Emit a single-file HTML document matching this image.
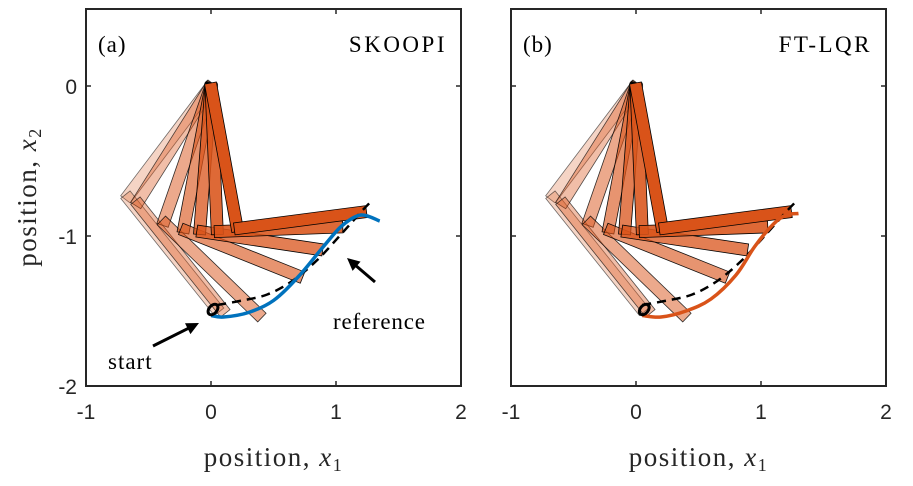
<!DOCTYPE html>
<html><head><meta charset="utf-8"><style>
html,body{margin:0;padding:0;background:#fff;}
svg text{font-family:"Liberation Serif",serif;}
.tick{font-family:"Liberation Sans",sans-serif;font-size:21px;fill:#262626;}
</style></head><body>
<svg id="c" width="913" height="481" viewBox="0 0 913 481" xmlns="http://www.w3.org/2000/svg"></svg>
<script>
const xTicks=[-1,0,1,2];
const yTicks=[0,-1,-2];
const elbowX=[-0.67,-0.59,-0.38,-0.22,-0.09,0.05,0.21];
const elbowY=[-0.74,-0.78,-0.91,-0.96,-0.97,-0.97,-0.95];
const tipX=[0.05,0.10,0.39,0.71,0.87,1.03,1.22];
const tipY=[-1.49,-1.50,-1.53,-1.27,-1.09,-0.94,-0.84];
const refX=[0.05,0.25,0.45,0.65,0.85,1.05,1.2,1.28];
const refY=[-1.46,-1.43,-1.39,-1.30,-1.16,-0.98,-0.84,-0.77];
const skX=[0.0,0.1,0.3,0.5,0.7,0.9,1.05,1.2,1.35];
const skY=[-1.53,-1.54,-1.51,-1.43,-1.27,-1.07,-0.93,-0.86,-0.90];
const ftX=[0.05,0.2,0.4,0.6,0.8,0.95,1.1,1.2,1.3];
const ftY=[-1.53,-1.54,-1.50,-1.42,-1.26,-1.07,-0.92,-0.86,-0.85];
const panels=[{x0:86,lab:"(a)",name:"SKOOPI",cx:skX,cy:skY,col:"#0072bd",yl:true},
              {x0:511,lab:"(b)",name:"FT-LQR",cx:ftX,cy:ftY,col:"#d95319",yl:false}];
const svg=document.getElementById('c');
const NS="http://www.w3.org/2000/svg";
function mk(t,a,p){const e=document.createElementNS(NS,t);for(const k in a)e.setAttribute(k,a[k]);(p||svg).appendChild(e);return e;}
function smooth(pts){
  let d='M'+pts[0][0]+','+pts[0][1];
  for(let i=0;i<pts.length-1;i++){
    const p0=pts[Math.max(0,i-1)],p1=pts[i],p2=pts[i+1],p3=pts[Math.min(pts.length-1,i+2)];
    const c1=[p1[0]+(p2[0]-p0[0])/6,p1[1]+(p2[1]-p0[1])/6];
    const c2=[p2[0]-(p3[0]-p1[0])/6,p2[1]-(p3[1]-p1[1])/6];
    d+=` C${c1[0]},${c1[1]} ${c2[0]},${c2[1]} ${p2[0]},${p2[1]}`;
  }
  return d;
}
const Y0=9,H=377,W=375;
const sy=v=>86-150*v;
panels.forEach((P,pi)=>{
  const sx=v=>P.x0+125+125*v;
  const g=mk('g',{});
  
  
  const n=elbowX.length;
  function bar(x1,y1,x2,y2,w,fill,op){
    const dx=x2-x1,dy=y2-y1,L=Math.hypot(dx,dy),nx=-dy/L*w/2,ny=dx/L*w/2;
    const ex=dx/L*3,ey=dy/L*3;
    const pts=[[x1-ex+nx,y1-ey+ny],[x2+ex+nx,y2+ey+ny],[x2+ex-nx,y2+ey-ny],[x1-ex-nx,y1-ey-ny]].map(p=>p.join(',')).join(' ');
    const e=mk('polygon',{points:pts,fill:fill,'fill-opacity':op,stroke:'#000','stroke-width':0.8,'stroke-opacity':Math.min(1,op+0.3)},g);
    
    
  }
  for(let i=0;i<n;i++){
    const op=0.25+0.75*i/(n-1);
    bar(sx(0),sy(0),sx(elbowX[i]),sy(elbowY[i]),12,'#d95319',op);
    bar(sx(elbowX[i]),sy(elbowY[i]),sx(tipX[i]),sy(tipY[i]),12,'#d95319',op);
  }
  const rp=mk('path',{d:smooth(refX.map((v,i)=>[sx(v),sy(refY[i])])),fill:'none',stroke:'#000','stroke-width':2.5,'stroke-dasharray':'9,6'},g);
  
  
  const tr=mk('path',{d:smooth(P.cx.map((v,i)=>[sx(v),sy(P.cy[i])])),fill:'none',stroke:P.col,'stroke-width':3.5,'stroke-linejoin':'round'},g);
  
  
  const sm=mk('g',{},g);
  
  
  mk('ellipse',{cx:sx(P.cx[0])+2,cy:sy(P.cy[0])-6,rx:4,ry:6,fill:'none',stroke:'#000','stroke-width':3,transform:`rotate(40 ${sx(P.cx[0])+2} ${sy(P.cy[0])-6})`},sm);
  const fr=mk('rect',{x:P.x0,y:Y0,width:W,height:H,fill:'none',stroke:'#262626','stroke-width':2},g);
  
  
  xTicks.forEach(v=>{
    const X=sx(v);
    mk('line',{x1:X,y1:Y0+H,x2:X,y2:Y0+H-5,stroke:'#262626','stroke-width':1.5},g);
    mk('line',{x1:X,y1:Y0,x2:X,y2:Y0+5,stroke:'#262626','stroke-width':1.5},g);
    const t=mk('text',{x:X,y:419,'text-anchor':'middle',class:'tick'},g);t.textContent=v;
    
    
  });
  yTicks.forEach(v=>{
    const Yp=sy(v);
    mk('line',{x1:P.x0,y1:Yp,x2:P.x0+5,y2:Yp,stroke:'#262626','stroke-width':1.5},g);
    mk('line',{x1:P.x0+W,y1:Yp,x2:P.x0+W-5,y2:Yp,stroke:'#262626','stroke-width':1.5},g);
    if(P.yl){const t=mk('text',{x:77,y:Yp+8,'text-anchor':'end',class:'tick'},g);t.textContent=v;
      
      }
  });
  const l=mk('text',{x:P.x0+12,y:52,'font-size':23,'letter-spacing':1},g);l.textContent=P.lab;
  
  
  const nm=mk('text',{x:P.x0+W-14,y:52,'font-size':23,'text-anchor':'end','letter-spacing':2.5},g);nm.textContent=P.name;
  
  
  const xt=mk('text',{x:P.x0+W/2,y:466,'font-size':27,'text-anchor':'middle',fill:'#262626','letter-spacing':1.5},g);
  xt.innerHTML='position, <tspan font-style="italic">x</tspan><tspan font-size="18" dy="5">1</tspan>';
  
  
});
const yt=mk('text',{x:0,y:0,'font-size':27,'text-anchor':'middle',fill:'#262626','letter-spacing':1.5,transform:'translate(36,197) rotate(-90)'});
yt.innerHTML='position, <tspan font-style="italic">x</tspan><tspan font-size="18" dy="5">2</tspan>';


function arrow(x1,y1,x2,y2,name){
  const g=mk('g',{});
  
  
  const a=Math.atan2(y2-y1,x2-x1),L=14;
  mk('line',{x1:x1,y1:y1,x2:x2-Math.cos(a)*8,y2:y2-Math.sin(a)*8,stroke:'#000','stroke-width':3},g);
  const p=[[x2,y2],[x2-L*Math.cos(a-0.45),y2-L*Math.sin(a-0.45)],[x2-L*Math.cos(a+0.45),y2-L*Math.sin(a+0.45)]];
  mk('polygon',{points:p.map(q=>q.join(',')).join(' '),fill:'#000'},g);
}
arrow(153,346,199,323,'start-arrow');
arrow(375,282,347,258,'reference-arrow');
const st=mk('text',{x:108,y:369,'font-size':23,'letter-spacing':1});st.textContent='start';


const rf=mk('text',{x:333,y:329,'font-size':23,'letter-spacing':0.8});rf.textContent='reference';


</script>
</body></html>
